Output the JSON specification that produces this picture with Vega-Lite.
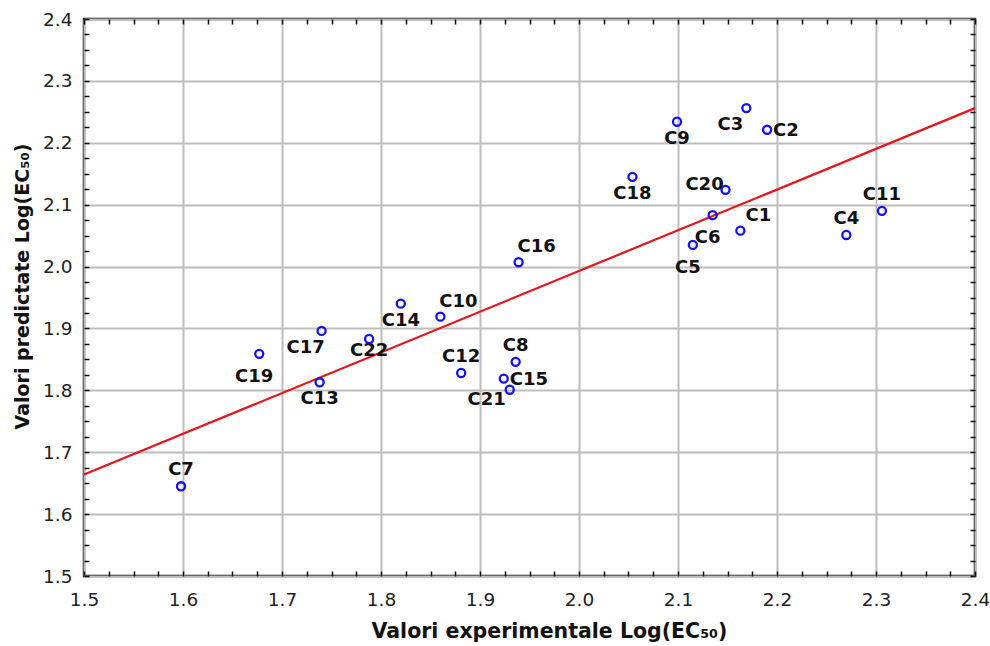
{
  "$schema": "https://vega.github.io/schema/vega-lite/v6.json",
  "autosize": "none",
  "width": 891,
  "height": 557,
  "padding": {"left": 84, "top": 19, "right": 15, "bottom": 70},
  "background": "white",
  "config": {
    "view": {"stroke": "#111", "strokeWidth": 2.5},
    "font": "DejaVu Sans"
  },
  "datasets": {
    "pts": [
      {"name": "C1", "x": 2.163, "y": 2.058},
      {"name": "C2", "x": 2.190, "y": 2.221},
      {"name": "C3", "x": 2.169, "y": 2.256},
      {"name": "C4", "x": 2.270, "y": 2.051},
      {"name": "C5", "x": 2.115, "y": 2.035},
      {"name": "C6", "x": 2.135, "y": 2.083},
      {"name": "C7", "x": 1.598, "y": 1.645},
      {"name": "C8", "x": 1.936, "y": 1.846},
      {"name": "C9", "x": 2.099, "y": 2.234},
      {"name": "C10", "x": 1.860, "y": 1.919},
      {"name": "C11", "x": 2.306, "y": 2.090},
      {"name": "C12", "x": 1.881, "y": 1.828},
      {"name": "C13", "x": 1.738, "y": 1.813},
      {"name": "C14", "x": 1.820, "y": 1.940},
      {"name": "C15", "x": 1.924, "y": 1.819},
      {"name": "C16", "x": 1.939, "y": 2.007},
      {"name": "C17", "x": 1.740, "y": 1.896},
      {"name": "C18", "x": 2.054, "y": 2.145},
      {"name": "C19", "x": 1.677, "y": 1.859},
      {"name": "C20", "x": 2.148, "y": 2.124},
      {"name": "C21", "x": 1.930, "y": 1.801},
      {"name": "C22", "x": 1.788, "y": 1.883}
    ],
    "fit": [
      {"x": 1.5, "y": 1.664},
      {"x": 2.4, "y": 2.256}
    ]
  },
  "layer": [
    {
      "data": {"name": "fit"},
      "mark": {"type": "line", "color": "#e8141c", "strokeWidth": 2.2},
      "encoding": {
        "x": {
          "field": "x", "type": "quantitative",
          "scale": {"domain": [1.5, 2.4], "nice": false, "zero": false},
          "axis": {
            "orient": "bottom",
            "values": [1.5,1.525,1.55,1.575,1.6,1.625,1.65,1.675,1.7,1.725,1.75,1.775,1.8,1.825,1.85,1.875,1.9,1.925,1.95,1.975,2.0,2.025,2.05,2.075,2.1,2.125,2.15,2.175,2.2,2.225,2.25,2.275,2.3,2.325,2.35,2.375,2.4],
            "labelExpr": "abs(datum.value*10 - round(datum.value*10)) < 0.01 ? format(datum.value, '.1f') : ''",
            "grid": true,
            "gridColor": "#bdbdbd",
            "gridWidth": 2,
            "gridOpacity": {"condition": {"test": "abs(datum.value*10 - round(datum.value*10)) < 0.01", "value": 1}, "value": 0},
            "domain": false,
            "ticks": true,
            "tickSize": -5,
            "tickColor": "#111",
            "tickWidth": 1.5,
            "labelFont": "DejaVu Sans",
            "labelFontSize": 18.5,
            "labelColor": "#222",
            "labelPadding": 19,
            "labelFlush": false,
            "title": "Valori experimentale Log(EC₅₀)",
            "titleFont": "DejaVu Sans",
            "titleFontSize": 20.5,
            "titleFontWeight": "bold",
            "titleColor": "#111",
            "titlePadding": 13,
            "titleX": 465
          }
        },
        "y": {
          "field": "y", "type": "quantitative",
          "scale": {"domain": [1.5, 2.4], "nice": false, "zero": false},
          "axis": {
            "orient": "left",
            "values": [1.5,1.525,1.55,1.575,1.6,1.625,1.65,1.675,1.7,1.725,1.75,1.775,1.8,1.825,1.85,1.875,1.9,1.925,1.95,1.975,2.0,2.025,2.05,2.075,2.1,2.125,2.15,2.175,2.2,2.225,2.25,2.275,2.3,2.325,2.35,2.375,2.4],
            "labelExpr": "abs(datum.value*10 - round(datum.value*10)) < 0.01 ? format(datum.value, '.1f') : ''",
            "grid": true,
            "gridColor": "#bdbdbd",
            "gridWidth": 2,
            "gridOpacity": {"condition": {"test": "abs(datum.value*10 - round(datum.value*10)) < 0.01", "value": 1}, "value": 0},
            "domain": false,
            "ticks": true,
            "tickSize": -5,
            "tickColor": "#111",
            "tickWidth": 1.5,
            "labelFont": "DejaVu Sans",
            "labelFontSize": 18.5,
            "labelColor": "#222",
            "labelPadding": 17,
            "labelFlush": false,
            "title": "Valori predictate Log(EC₅₀)",
            "titleFont": "DejaVu Sans",
            "titleFontSize": 19,
            "titleFontWeight": "bold",
            "titleColor": "#111",
            "titlePadding": 10,
            "titleY": 267
          }
        }
      }
    },
    {
      "data": {"name": "pts"},
      "mark": {"type": "point", "shape": "circle", "filled": false, "color": "#1010ff", "opacity": 1, "strokeWidth": 2.3, "size": 65},
      "encoding": {
        "x": {
          "field": "x", "type": "quantitative",
          "axis": {
            "orient": "top",
            "values": [1.5,1.525,1.55,1.575,1.6,1.625,1.65,1.675,1.7,1.725,1.75,1.775,1.8,1.825,1.85,1.875,1.9,1.925,1.95,1.975,2.0,2.025,2.05,2.075,2.1,2.125,2.15,2.175,2.2,2.225,2.25,2.275,2.3,2.325,2.35,2.375,2.4],
            "labels": false, "grid": false, "domain": false,
            "tickSize": -5, "tickColor": "#111", "tickWidth": 1.5, "title": null
          }
        },
        "y": {
          "field": "y", "type": "quantitative",
          "axis": {
            "orient": "right",
            "values": [1.5,1.525,1.55,1.575,1.6,1.625,1.65,1.675,1.7,1.725,1.75,1.775,1.8,1.825,1.85,1.875,1.9,1.925,1.95,1.975,2.0,2.025,2.05,2.075,2.1,2.125,2.15,2.175,2.2,2.225,2.25,2.275,2.3,2.325,2.35,2.375,2.4],
            "labels": false, "grid": false, "domain": false,
            "tickSize": -5, "tickColor": "#111", "tickWidth": 1.5, "title": null
          }
        }
      }
    },
    {
      "data": {"name": "pts"},
      "transform": [{"filter": {"field": "name", "oneOf": ["C7", "C12", "C8", "C4", "C11"]}}],
      "mark": {"type": "text", "font": "DejaVu Sans", "fontSize": 18, "fontWeight": "bold", "color": "#111", "baseline": "middle", "align": "center", "dy": -16},
      "encoding": {"x": {"field": "x", "type": "quantitative", "axis": null}, "y": {"field": "y", "type": "quantitative", "axis": null}, "text": {"field": "name"}}
    },
    {
      "data": {"name": "pts"},
      "transform": [{"filter": {"field": "name", "oneOf": ["C13", "C14", "C18", "C9"]}}],
      "mark": {"type": "text", "font": "DejaVu Sans", "fontSize": 18, "fontWeight": "bold", "color": "#111", "baseline": "middle", "align": "center", "dy": 17},
      "encoding": {"x": {"field": "x", "type": "quantitative", "axis": null}, "y": {"field": "y", "type": "quantitative", "axis": null}, "text": {"field": "name"}}
    },
    {
      "data": {"name": "pts"},
      "transform": [{"filter": {"field": "name", "oneOf": ["C22"]}}],
      "mark": {"type": "text", "font": "DejaVu Sans", "fontSize": 18, "fontWeight": "bold", "color": "#111", "baseline": "middle", "align": "center", "dy": 12},
      "encoding": {"x": {"field": "x", "type": "quantitative", "axis": null}, "y": {"field": "y", "type": "quantitative", "axis": null}, "text": {"field": "name"}}
    },
    {
      "data": {"name": "pts"},
      "transform": [{"filter": {"field": "name", "oneOf": ["C19", "C6", "C5"]}}],
      "mark": {"type": "text", "font": "DejaVu Sans", "fontSize": 18, "fontWeight": "bold", "color": "#111", "baseline": "middle", "align": "center", "dx": -5, "dy": 23},
      "encoding": {"x": {"field": "x", "type": "quantitative", "axis": null}, "y": {"field": "y", "type": "quantitative", "axis": null}, "text": {"field": "name"}}
    },
    {
      "data": {"name": "pts"},
      "transform": [{"filter": {"field": "name", "oneOf": ["C17", "C3"]}}],
      "mark": {"type": "text", "font": "DejaVu Sans", "fontSize": 18, "fontWeight": "bold", "color": "#111", "baseline": "middle", "align": "center", "dx": -16, "dy": 17},
      "encoding": {"x": {"field": "x", "type": "quantitative", "axis": null}, "y": {"field": "y", "type": "quantitative", "axis": null}, "text": {"field": "name"}}
    },
    {
      "data": {"name": "pts"},
      "transform": [{"filter": {"field": "name", "oneOf": ["C21"]}}],
      "mark": {"type": "text", "font": "DejaVu Sans", "fontSize": 18, "fontWeight": "bold", "color": "#111", "baseline": "middle", "align": "center", "dx": -23, "dy": 10},
      "encoding": {"x": {"field": "x", "type": "quantitative", "axis": null}, "y": {"field": "y", "type": "quantitative", "axis": null}, "text": {"field": "name"}}
    },
    {
      "data": {"name": "pts"},
      "transform": [{"filter": {"field": "name", "oneOf": ["C10", "C16", "C1"]}}],
      "mark": {"type": "text", "font": "DejaVu Sans", "fontSize": 18, "fontWeight": "bold", "color": "#111", "baseline": "middle", "align": "center", "dx": 18, "dy": -15},
      "encoding": {"x": {"field": "x", "type": "quantitative", "axis": null}, "y": {"field": "y", "type": "quantitative", "axis": null}, "text": {"field": "name"}}
    },
    {
      "data": {"name": "pts"},
      "transform": [{"filter": {"field": "name", "oneOf": ["C15", "C2"]}}],
      "mark": {"type": "text", "font": "DejaVu Sans", "fontSize": 18, "fontWeight": "bold", "color": "#111", "baseline": "middle", "align": "left", "dx": 6, "dy": 1},
      "encoding": {"x": {"field": "x", "type": "quantitative", "axis": null}, "y": {"field": "y", "type": "quantitative", "axis": null}, "text": {"field": "name"}}
    },
    {
      "data": {"name": "pts"},
      "transform": [{"filter": {"field": "name", "oneOf": ["C20"]}}],
      "mark": {"type": "text", "font": "DejaVu Sans", "fontSize": 18, "fontWeight": "bold", "color": "#111", "baseline": "middle", "align": "center", "dx": -21, "dy": -5},
      "encoding": {"x": {"field": "x", "type": "quantitative", "axis": null}, "y": {"field": "y", "type": "quantitative", "axis": null}, "text": {"field": "name"}}
    }
  ],
  "resolve": {"axis": {"x": "independent", "y": "independent"}}
}
